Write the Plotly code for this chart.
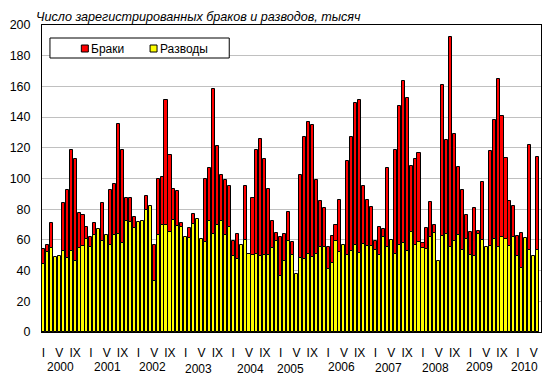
import plotly.graph_objects as go

# ---- data (thousands), monthly Jan 2000 .. Jun 2010 ----
marriages = [
    54, 56.5, 71, 46, 45, 84, 92.5, 118.5, 113, 77.4, 76, 68.3,            # 2000
    61.7, 70.9, 62, 84, 58, 92.6, 96.5, 135.5, 118.6, 87.2, 87.2, 74.8,    # 2001
    66, 68, 88.6, 70, 57, 99.8, 101, 151.3, 115.3, 93.2, 92, 70.9,         # 2002
    58, 67.7, 77, 70, 55, 100, 107, 158.5, 121.3, 102.6, 99.1, 95,         # 2003
    59.3, 63.7, 55, 95, 48, 87.2, 118.6, 125.8, 112.7, 93.1, 72.4, 64.5,   # 2004
    62, 64, 78.2, 58.5, 36, 102.4, 127.2, 136.8, 135, 99.1, 85.3, 80.7,    # 2005
    55.2, 62.4, 70, 86, 50, 111.5, 127.2, 149.2, 151.2, 95, 86, 81.7,      # 2006
    59, 68.3, 67.4, 106.7, 55, 118.6, 147.4, 163.7, 152.4, 108.4, 112.8, 116.5,  # 2007
    58, 67.8, 84.8, 70, 40, 161, 125.2, 192.3, 128.9, 107.4, 92.4, 76.1,   # 2008
    65.2, 80.7, 66, 97.6, 50, 117.9, 138.2, 164.9, 140.8, 113.3, 85.2, 82, # 2009
    62.4, 64.3, 58, 121.8, 45, 114.1,                                      # 2010
]
divorces = [
    44, 52, 55, 48.7, 49.3, 53, 48, 53, 46.5, 55, 56, 60.4,
    55.2, 63, 67, 59, 63, 56.5, 63, 64.1, 57.8, 72.2, 71.7, 67.6,
    71.7, 72.3, 79.3, 82, 33, 63, 70, 70, 65, 73, 69, 68.5,
    62, 61, 70.4, 73.7, 60.5, 58.7, 72.6, 64, 70, 72.2, 63.5, 68.2,
    49.6, 47.8, 57, 60, 51, 50, 51, 49.3, 50, 50.4, 54.7, 59,
    36.3, 46, 59, 50.4, 37.5, 48.3, 47.8, 51, 48.7, 50.9, 55.2, 55.2,
    41, 45.2, 59, 52, 57, 50.4, 52.6, 57, 51.7, 57.4, 56.3, 55.9,
    53.3, 50.4, 61.7, 55.2, 59.8, 51, 57, 58, 52.6, 65.2, 57, 58.7,
    55, 54.3, 61.7, 64.3, 46, 62.8, 64.1, 55.2, 59.1, 63, 53.3, 60.9,
    50.4, 49.6, 64, 59.8, 55.2, 56.3, 60.9, 55.2, 61.7, 60.9, 55.9, 61.7,
    49.8, 41.7, 61.3, 53.5, 49.3, 53.3,
]
years = ["2000", "2001", "2002", "2003", "2004", "2005",
         "2006", "2007", "2008", "2009", "2010"]
month_tick_labels = ["I", "V", "IX"]
series_names = ["Браки", "Разводы"]
title_text = "Число зарегистрированных браков и разводов, тысяч"

# ---- layout helpers ----
W, H = 552, 386
ML, MR, MT, MB = 41, 10, 25, 54
PW, PH = W - ML - MR, H - MT - MB
FONT = "Arial, 'Liberation Sans', sans-serif"


def px_x(p):
    return (p - ML) / PW


def px_y(p):
    return (H - MB - p) / PH


x = list(range(len(marriages)))
tickvals = [i for i in x if i % 12 in (0, 4, 8)]
ticktext = [month_tick_labels[(i % 12) // 4] for i in tickvals]

fig = go.Figure()
fig.add_bar(x=x, y=marriages, name=series_names[0], width=0.78,
            marker=dict(color="#FF0000", line=dict(color="black", width=1)),
            showlegend=False)
fig.add_bar(x=x, y=divorces, name=series_names[1], width=0.78,
            marker=dict(color="#FFFF00", line=dict(color="black", width=1)),
            showlegend=False)

# year labels (positions in month-index units, as placed on the original)
year_pos = [4.4, 16.1, 27.6, 39.2, 52.3, 62.4, 75.5, 87.3, 99.2, 110.2, 121.6]
year_ypx = [366.5, 366.5, 366.5, 369, 369, 369, 367, 367.5, 368, 367, 367]
annotations = []
for yl, xp, yp in zip(years, year_pos, year_ypx):
    annotations.append(dict(text=yl, x=xp, xref="x", y=px_y(yp), yref="paper",
                            showarrow=False, xanchor="center", yanchor="middle",
                            font=dict(family=FONT, size=12, color="black")))

# chart title
annotations.append(dict(text="<i>" + title_text + "</i>", x=px_x(33), xref="paper",
                        y=px_y(17), yref="paper", showarrow=False,
                        xanchor="left", yanchor="middle",
                        font=dict(family=FONT, size=12.6, color="black")))

# manual legend
shapes = [
    dict(type="rect", xref="paper", yref="paper",
         x0=px_x(49), x1=px_x(229), y0=px_y(58), y1=px_y(38),
         fillcolor="white", line=dict(color="black", width=1), layer="above"),
    dict(type="rect", xref="paper", yref="paper",
         x0=px_x(80.5), x1=px_x(87.5), y0=px_y(52), y1=px_y(45),
         fillcolor="#FF0000", line=dict(color="black", width=1), layer="above"),
    dict(type="rect", xref="paper", yref="paper",
         x0=px_x(149.5), x1=px_x(156.5), y0=px_y(52), y1=px_y(45),
         fillcolor="#FFFF00", line=dict(color="black", width=1), layer="above"),
]
annotations.append(dict(text=series_names[0], x=px_x(88.5), xref="paper",
                        y=px_y(48.5), yref="paper", showarrow=False,
                        xanchor="left", yanchor="middle",
                        font=dict(family=FONT, size=12, color="black")))
annotations.append(dict(text=series_names[1], x=px_x(157.5), xref="paper",
                        y=px_y(48.5), yref="paper", showarrow=False,
                        xanchor="left", yanchor="middle",
                        font=dict(family=FONT, size=12, color="black")))

fig.update_layout(
    width=W, height=H,
    margin=dict(l=ML, r=MR, t=MT, b=MB, pad=0),
    paper_bgcolor="white", plot_bgcolor="white",
    barmode="overlay", bargap=0,
    xaxis=dict(range=[-0.37, 125.86], tickvals=tickvals, ticktext=ticktext,
               showgrid=False, zeroline=False, showline=True, mirror=True,
               linecolor="black", linewidth=1, ticks="",
               ticklabelstandoff=10,
               tickfont=dict(family=FONT, size=12, color="black")),
    yaxis=dict(range=[0, 200], dtick=20, tick0=0, showgrid=True,
               gridcolor="#C0C0C0", gridwidth=1, zeroline=False,
               showline=True, mirror=True, linecolor="black", linewidth=1,
               ticks="", ticklabelstandoff=8,
               tickfont=dict(family=FONT, size=12.5, color="black")),
    shapes=shapes, annotations=annotations,
    showlegend=False,
)

fig.write_html("out.html",
               config={"displayModeBar": False, "responsive": False},
               post_script="document.body.style.margin='0';"
                           "document.body.style.padding='0';"
                           "document.body.style.overflow='hidden';")
